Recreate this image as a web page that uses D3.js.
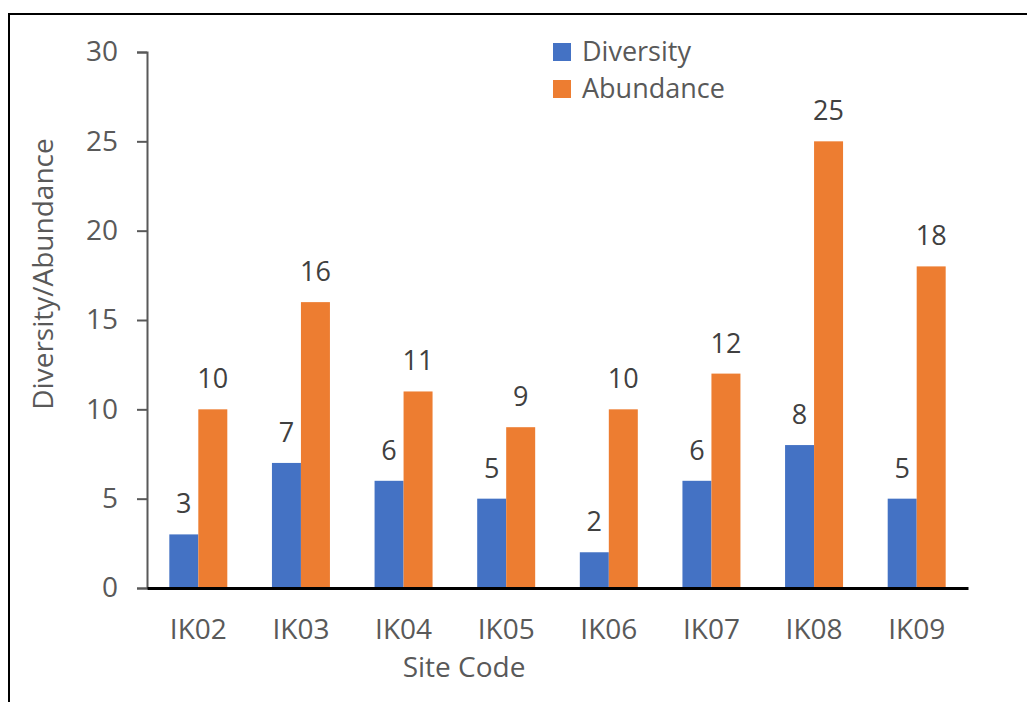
<!DOCTYPE html>
<html>
<head>
<meta charset="utf-8">
<script src="https://cdn.jsdelivr.net/npm/d3@7"></script>
<style>
  html, body { margin: 0; padding: 0; background: #fff; }
  svg { display: block; font-family: "Open Sans", sans-serif; }
</style>
</head>
<body>
<div id="chart"></div>
<script>
// chart data
const sites = ["IK02", "IK03", "IK04", "IK05", "IK06", "IK07", "IK08", "IK09"];
const diversity = [3, 7, 6, 5, 2, 6, 8, 5];
const abundance = [10, 16, 11, 9, 10, 12, 25, 18];
const seriesNames = ["Diversity", "Abundance"];
const seriesColors = ["#4472C4", "#ED7D31"];
const yTicks = [0, 5, 10, 15, 20, 25, 30];

const svgWidth = 1027, svgHeight = 702;
const margin = { top: 52, right: 59, bottom: 114, left: 147 };
const width = svgWidth - margin.left - margin.right;
const height = svgHeight - margin.top - margin.bottom;

const svg = d3.select("#chart").append("svg")
  .attr("width", svgWidth)
  .attr("height", svgHeight);

// outer frame (right and bottom fall off the picture)
svg.append("path")
  .attr("d", "M9,702 V14 H1027")
  .attr("fill", "none")
  .attr("stroke", "#000")
  .attr("stroke-width", 2);

const g = svg.append("g")
  .attr("transform", "translate(" + margin.left + "," + margin.top + ")");

const data = sites.map((s, i) => ({ site: s, values: [diversity[i], abundance[i]] }));

const x0 = d3.scaleBand().domain(sites).range([0, width]).padding(0);
const groupW = x0.bandwidth() * 0.565;
const x1 = d3.scaleBand().domain(seriesNames)
  .range([x0.bandwidth() / 2 - groupW / 2, x0.bandwidth() / 2 + groupW / 2]);
const y = d3.scaleLinear().domain([0, 30]).range([height, 0]);

// y axis
const yAxis = d3.axisLeft(y).tickValues(yTicks).tickSize(10).tickPadding(19);
const yg = g.append("g").call(yAxis);
yg.select(".domain").attr("stroke", "#595959").attr("stroke-width", 2);
yg.selectAll(".tick line").attr("stroke", "#595959").attr("stroke-width", 2);
yg.selectAll(".tick text")
  .attr("fill", "#595959")
  .style("font-size", "28px")
  .attr("font-family", "Open Sans");

// bars
const groups = g.selectAll(".grp")
  .data(data)
  .enter().append("g")
  .attr("class", "grp")
  .attr("transform", d => "translate(" + x0(d.site) + ",0)");

groups.selectAll("rect")
  .data(d => d.values.map((v, i) => ({ key: seriesNames[i], value: v, idx: i })))
  .enter().append("rect")
  .attr("x", d => x1(d.key))
  .attr("y", d => y(d.value))
  .attr("width", x1.bandwidth())
  .attr("height", d => height - y(d.value))
  .attr("fill", d => seriesColors[d.idx]);

// value labels
groups.selectAll(".val")
  .data(d => d.values.map((v, i) => ({ key: seriesNames[i], value: v })))
  .enter().append("text")
  .attr("class", "val")
  .attr("x", d => x1(d.key) + x1.bandwidth() / 2)
  .attr("y", d => y(d.value) - 21)
  .attr("text-anchor", "middle")
  .attr("fill", "#404040")
  .style("font-size", "27px")
  .text(d => d.value);

// x axis
const xAxis = d3.axisBottom(x0).tickSize(0).tickPadding(31);
const xg = g.append("g")
  .attr("transform", "translate(0," + height + ")")
  .call(xAxis);
xg.select(".domain").attr("stroke", "#000").attr("stroke-width", 3);
xg.selectAll(".tick text")
  .attr("fill", "#595959")
  .style("font-size", "28px")
  .attr("font-family", "Open Sans")
  .attr("dy", "0.71em");

// axis titles
svg.append("text")
  .attr("x", 464)
  .attr("y", 677)
  .attr("text-anchor", "middle")
  .attr("fill", "#595959")
  .style("font-size", "28px")
  .text("Site Code");

svg.append("text")
  .attr("transform", "translate(53," + 274 + ") rotate(-90)")
  .attr("text-anchor", "middle")
  .attr("fill", "#595959")
  .style("font-size", "28px")
  .text("Diversity/Abundance");

// legend
const legend = svg.append("g").attr("transform", "translate(553,43)");
const items = legend.selectAll(".item")
  .data(seriesNames)
  .enter().append("g")
  .attr("class", "item")
  .attr("transform", (d, i) => "translate(0," + i * 37 + ")");
items.append("rect")
  .attr("width", 18).attr("height", 18)
  .attr("fill", (d, i) => seriesColors[i]);
items.append("text")
  .attr("x", 29)
  .attr("y", 18)
  .attr("fill", "#595959")
  .style("font-size", "27px")
  .text(d => d);
</script>
</body>
</html>
